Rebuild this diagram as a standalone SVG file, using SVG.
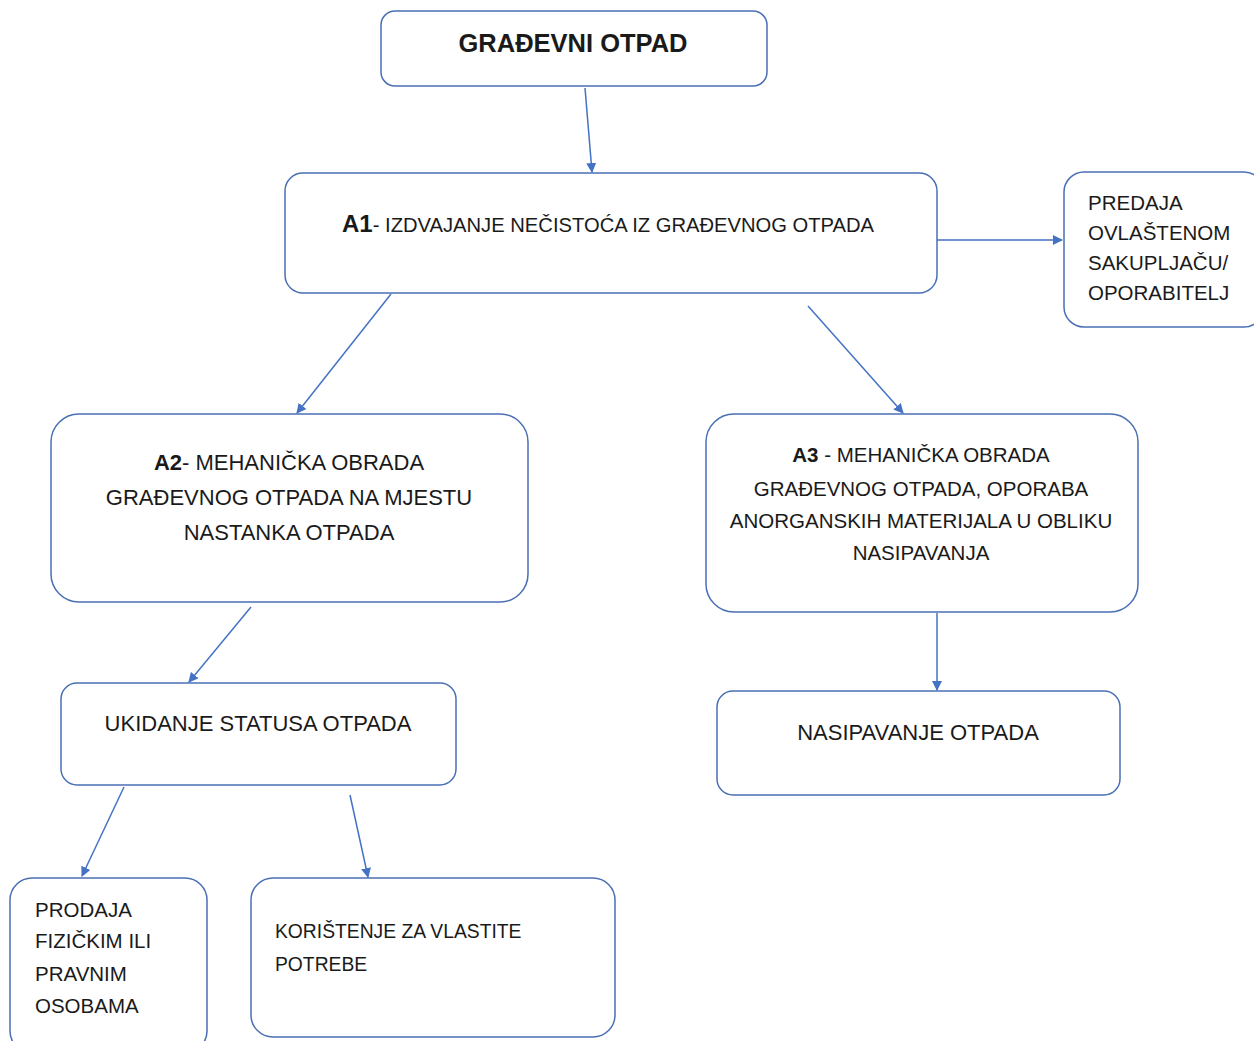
<svg xmlns="http://www.w3.org/2000/svg" width="1254" height="1041" viewBox="0 0 1254 1041">
<style>
.box{fill:#fff;stroke:#4a6fb5;stroke-width:1.5}
.t{font-family:"Liberation Sans",Arial,sans-serif;font-size:20.5px;fill:#1a1a1a}
.b{font-weight:bold}
.c{text-anchor:middle}
.l{font-size:22px}
.conn line{stroke:#4472c4;stroke-width:1.5;marker-end:url(#ah)}
</style>
<defs>
<marker id="ah" viewBox="0 0 10 10" refX="9" refY="5" markerWidth="10" markerHeight="10" markerUnits="userSpaceOnUse" orient="auto">
<path d="M0,0 L10,5 L0,10 z" fill="#4472c4"/>
</marker>
</defs>
<rect width="1254" height="1041" fill="#fff"/>
<g id="n-top">
<rect class="box" x="381" y="11" width="386" height="75" rx="14"/>
<text class="t b c" x="573" y="52" style="font-size:25.5px">GRAĐEVNI OTPAD</text>
</g>
<g id="n-a1">
<rect class="box" x="285" y="173" width="652" height="120" rx="18"/>
<text class="t" x="342" y="232" style="font-size:20.2px"><tspan class="b" style="font-size:24px">A1</tspan>- IZDVAJANJE NEČISTOĆA IZ GRAĐEVNOG OTPADA</text>
</g>
<g id="n-predaja">
<rect class="box" x="1064" y="172" width="200" height="155" rx="20"/>
<text class="t" x="1088" y="210">PREDAJA</text>
<text class="t" x="1088" y="240">OVLAŠTENOM</text>
<text class="t" x="1088" y="270">SAKUPLJAČU/</text>
<text class="t" x="1088" y="300">OPORABITELJ</text>
</g>
<g id="n-a2">
<rect class="box" x="51" y="414" width="477" height="188" rx="28"/>
<text class="t l c" x="289" y="470"><tspan class="b">A2</tspan>- MEHANIČKA OBRADA</text>
<text class="t l c" x="289" y="505">GRAĐEVNOG OTPADA NA MJESTU</text>
<text class="t l c" x="289" y="540">NASTANKA OTPADA</text>
</g>
<g id="n-a3">
<rect class="box" x="706" y="414" width="432" height="198" rx="28"/>
<text class="t c" x="921" y="462"><tspan class="b">A3</tspan> - MEHANIČKA OBRADA</text>
<text class="t c" x="921" y="496">GRAĐEVNOG OTPADA, OPORABA</text>
<text class="t c" x="921" y="528">ANORGANSKIH MATERIJALA U OBLIKU</text>
<text class="t c" x="921" y="560">NASIPAVANJA</text>
</g>
<g id="n-nasip">
<rect class="box" x="717" y="691" width="403" height="104" rx="16"/>
<text class="t l c" x="918" y="740">NASIPAVANJE OTPADA</text>
</g>
<g id="n-ukid">
<rect class="box" x="61" y="683" width="395" height="102" rx="16"/>
<text class="t l c" x="258" y="731">UKIDANJE STATUSA OTPADA</text>
</g>
<g id="n-prodaja">
<rect class="box" x="10" y="878" width="197" height="175" rx="22"/>
<text class="t" x="35" y="917">PRODAJA</text>
<text class="t" x="35" y="948">FIZIČKIM ILI</text>
<text class="t" x="35" y="981">PRAVNIM</text>
<text class="t" x="35" y="1013">OSOBAMA</text>
</g>
<g id="n-koristenje">
<rect class="box" x="251" y="878" width="364" height="159" rx="22"/>
<text class="t" x="275" y="938" style="font-size:19.3px">KORIŠTENJE ZA VLASTITE</text>
<text class="t" x="275" y="971" style="font-size:19.3px">POTREBE</text>
</g>
<g id="connectors" class="conn">
<line x1="585" y1="88" x2="592" y2="172"/>
<line x1="937" y1="240" x2="1062" y2="240"/>
<line x1="391" y1="294" x2="297" y2="413"/>
<line x1="808" y1="306" x2="903" y2="413"/>
<line x1="937" y1="613" x2="937" y2="690"/>
<line x1="251" y1="607" x2="189" y2="682"/>
<line x1="124" y1="787" x2="82" y2="876"/>
<line x1="350" y1="795" x2="368" y2="877"/>
</g>
</svg>
